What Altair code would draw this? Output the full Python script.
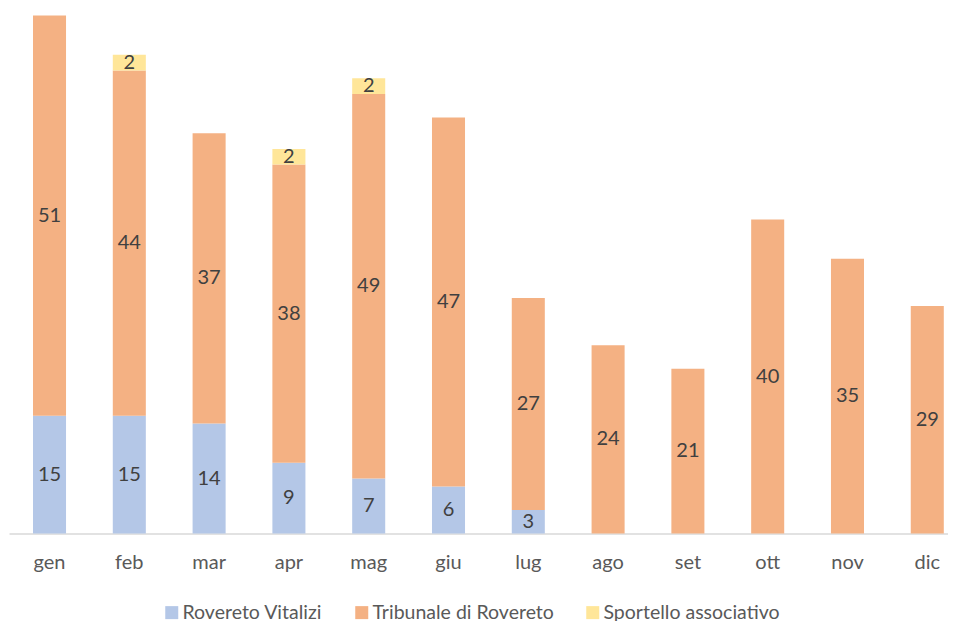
import altair as alt
import pandas as pd

months = ["gen", "feb", "mar", "apr", "mag", "giu", "lug", "ago", "set", "ott", "nov", "dic"]
series = ["Rovereto Vitalizi", "Tribunale di Rovereto", "Sportello associativo"]
colors = ["#B4C7E7", "#F4B183", "#FFE699"]
vitalizi = [15, 15, 14, 9, 7, 6, 3, 0, 0, 0, 0, 0]
tribunale = [51, 44, 37, 38, 49, 47, 27, 24, 21, 40, 35, 29]
sportello = [0, 2, 0, 2, 2, 0, 0, 0, 0, 0, 0, 0]

rows = []
for i, m in enumerate(months):
    acc = 0
    for name, order, vals in [(series[0], 0, vitalizi), (series[1], 1, tribunale), (series[2], 2, sportello)]:
        v = vals[i]
        rows.append({"month": m, "series": name, "value": v, "order": order,
                     "v0": acc, "v1": acc + v, "mid": acc + v / 2})
        acc += v
df = pd.DataFrame(rows)

FONT = "Lato"
FS = 20
W = 939
H = 518

x_enc = alt.X("month:N", sort=months, title=None,
              scale=alt.Scale(paddingInner=0.586, paddingOuter=0.1767, align=0.851),
              axis=alt.Axis(domain=True, domainColor="#D9D9D9", domainWidth=1.3, ticks=False,
                            labelAngle=0, labelFont=FONT, labelFontSize=FS,
                            labelColor="#595959", labelPadding=19))
y_scale = alt.Scale(domain=[0, 66], nice=False, zero=True)

base = alt.Chart(df)

bars = base.mark_bar().encode(
    x=x_enc,
    y=alt.Y("v0:Q", scale=y_scale, axis=None, title=None),
    y2="v1:Q",
    color=alt.Color("series:N", sort=series, scale=alt.Scale(domain=series, range=colors),
                    legend=alt.Legend(title=None, orient="none", direction="horizontal",
                                      legendX=153, legendY=587, symbolType="square",
                                      symbolSize=169, symbolStrokeWidth=0, labelFont=FONT,
                                      labelFontSize=19.5, labelColor="#595959", columnPadding=29,
                                      labelOffset=1, labelLimit=0)),
)

labels = base.transform_filter("datum.value > 0").mark_text(
    font=FONT, fontSize=FS, color="#404040", baseline="middle", align="center"
).encode(
    x=alt.X("month:N", sort=months),
    y=alt.Y("mid:Q", scale=y_scale),
    text="value:Q",
)

chart = alt.layer(bars, labels).properties(
    width=W, height=H,
    padding={"left": 1, "top": 7.5, "right": 0, "bottom": 0},
).configure_view(stroke=None)

chart.save("out.html", embed_options={"renderer": "svg", "actions": False})
